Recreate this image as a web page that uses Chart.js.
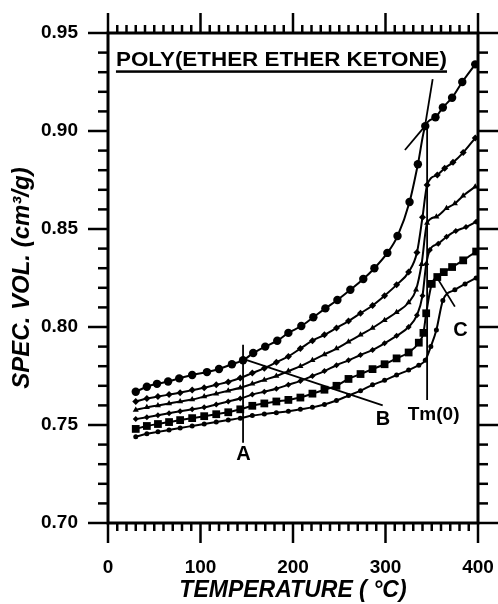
<!DOCTYPE html>
<html>
<head>
<meta charset="utf-8">
<script src="https://cdn.jsdelivr.net/npm/chart.js@4"></script>
<style>
  html, body { margin: 0; padding: 0; background: #fff; }
  canvas { display: block; }
</style>
</head>
<body>
<canvas id="c" width="498" height="604"></canvas>
<script>
/* PEEK specific volume vs temperature: six runs, with construction lines A, B, C and Tm(0). */
const FONT = '"Liberation Sans", Arial, Helvetica, sans-serif';

// run 1 - filled circles (top curve)
const t1 = [30, 42, 53, 65, 77, 91, 107, 120, 134, 146, 157, 170, 183, 195, 209, 222, 235, 248, 262, 276, 288, 302, 313, 326, 335, 343, 354, 362, 372, 383, 397];
const v1 = [0.767, 0.7695, 0.771, 0.7722, 0.7738, 0.7755, 0.777, 0.7786, 0.781, 0.783, 0.7867, 0.790, 0.793, 0.797, 0.8005, 0.805, 0.8095, 0.8138, 0.819, 0.8245, 0.830, 0.8378, 0.8464, 0.8638, 0.883, 0.9025, 0.907, 0.912, 0.917, 0.925, 0.934];
// run 2 - small diamonds
const t2 = [30, 42, 54, 66, 78, 91, 104, 117, 130, 143, 156, 169, 182, 195, 208, 221, 234, 247, 260, 273, 286, 299, 312, 325, 334, 340, 345, 356, 364, 373, 384, 397];
const v2 = [0.762, 0.7635, 0.7645, 0.7655, 0.7665, 0.7678, 0.769, 0.7705, 0.772, 0.774, 0.7765, 0.779, 0.782, 0.785, 0.789, 0.793, 0.796, 0.7995, 0.803, 0.807, 0.811, 0.816, 0.8215, 0.828, 0.838, 0.856, 0.8724, 0.8776, 0.881, 0.884, 0.889, 0.8964];
// run 3 - triangles
const t3 = [30, 42, 54, 66, 78, 91, 104, 117, 130, 143, 156, 169, 182, 195, 208, 221, 234, 247, 260, 273, 286, 299, 312, 325, 333, 339, 345, 355, 366, 375, 384, 397];
const v3 = [0.7577, 0.759, 0.760, 0.761, 0.762, 0.763, 0.7645, 0.766, 0.7675, 0.769, 0.771, 0.773, 0.775, 0.7775, 0.780, 0.783, 0.786, 0.789, 0.7925, 0.796, 0.7995, 0.8035, 0.8075, 0.8125, 0.819, 0.832, 0.853, 0.8563, 0.8606, 0.863, 0.867, 0.8716];
// run 4 - small diamonds
const t4 = [30, 42, 54, 66, 78, 91, 104, 117, 130, 143, 156, 169, 182, 195, 208, 221, 234, 247, 260, 273, 286, 299, 312, 325, 334, 340, 344, 348, 357, 366, 376, 387, 398];
const v4 = [0.753, 0.754, 0.755, 0.756, 0.757, 0.758, 0.759, 0.7605, 0.762, 0.7635, 0.7655, 0.767, 0.7685, 0.7705, 0.7725, 0.775, 0.7775, 0.7805, 0.783, 0.7857, 0.7883, 0.7917, 0.7955, 0.800, 0.806, 0.816, 0.832, 0.8393, 0.8425, 0.846, 0.849, 0.851, 0.8537];
// run 5 - squares
const t5 = [30, 42, 54, 66, 78, 91, 104, 117, 130, 143, 156, 169, 182, 195, 208, 221, 234, 247, 260, 273, 286, 299, 312, 325, 336, 341, 344, 350, 356, 363, 372, 384, 398];
const v5 = [0.748, 0.7495, 0.7505, 0.7515, 0.7525, 0.7535, 0.7545, 0.7555, 0.7565, 0.758, 0.7598, 0.761, 0.762, 0.7628, 0.764, 0.766, 0.768, 0.770, 0.7735, 0.776, 0.7785, 0.781, 0.784, 0.787, 0.792, 0.797, 0.807, 0.822, 0.8255, 0.828, 0.8306, 0.834, 0.8385];
// run 6 - small dots (bottom curve)
const t6 = [30, 42, 54, 66, 78, 91, 104, 117, 130, 143, 156, 169, 182, 195, 208, 221, 234, 247, 260, 273, 286, 299, 312, 325, 336, 343, 349, 355, 362, 375, 386, 398];
const v6 = [0.744, 0.7455, 0.7465, 0.7475, 0.7485, 0.7495, 0.7505, 0.7515, 0.7525, 0.7535, 0.7548, 0.7556, 0.7563, 0.757, 0.758, 0.759, 0.7605, 0.7625, 0.765, 0.7675, 0.7705, 0.7728, 0.7755, 0.778, 0.7805, 0.783, 0.790, 0.7985, 0.8135, 0.819, 0.822, 0.825];

// construction lines (temperature pairs / volume pairs)
const lineA = { t: [146, 146], v: [0.741, 0.791] };
const lineB = { t: [146, 297], v: [0.7837, 0.760] };
const lineC = { t: [355, 375], v: [0.8257, 0.8104] };
const lineTm = { t: [345, 345], v: [0.902, 0.7628] };
const tangentLiquid = { t: [321, 342.7], v: [0.8903, 0.9025] };
const tangentMelt = { t: [342.7, 351], v: [0.9025, 0.9265] };

// annotation labels
const labelText = ["A", "B", "C", "Tm(0)"];
const labelT = [146.5, 297.3, 381, 352];
const labelV = [0.7349, 0.7526, 0.7982, 0.7551];

// boxed-in title: starts at titleT, ends at titleEndT, baseline at titleV
const title = "POLY(ETHER ETHER KETONE)";
const titleT = 8.6, titleEndT = 366.5, titleV = 0.933;

const xTicks = [0, 100, 200, 300, 400];
const yTicks = ["0.70", "0.75", "0.80", "0.85", "0.90", "0.95"];

const pts = (ts, vs) => ts.map((t, i) => ({ x: t, y: vs[i] }));

const runs = [
  [t1, v1, "circle", 4.2],
  [t2, v2, "rectRot", 3.5],
  [t3, v3, "triangle", 3.5],
  [t4, v4, "rectRot", 3],
  [t5, v5, "rect", 5.5],
  [t6, v6, "circle", 2.5],
];

const datasets = runs.map(([t, v, shape, r]) => ({
  data: pts(t, v), showLine: true, borderColor: "#000", backgroundColor: "#000", borderWidth: 2,
  pointStyle: shape, pointRadius: r, pointBorderWidth: 0, cubicInterpolationMode: "monotone",
}));
[lineA, lineB, lineC, lineTm, tangentLiquid, tangentMelt].forEach((l) => datasets.push({
  data: pts(l.t, l.v), showLine: true, borderColor: "#000", borderWidth: 1.8, pointRadius: 0,
}));

// frame with outward ticks on all four sides, long at labelled values
const frame = {
  id: "frame",
  afterDatasetsDraw(chart) {
    const { ctx, chartArea: a, scales: { x, y } } = chart;
    const seg = (x0, y0, x1, y1) => { ctx.beginPath(); ctx.moveTo(x0, y0); ctx.lineTo(x1, y1); ctx.stroke(); };
    ctx.save();
    ctx.strokeStyle = "#000";
    ctx.lineWidth = 2.5;
    for (let t = 0; t <= 400; t += 10) {
      const px = x.getPixelForValue(t), L = t % 100 === 0 ? 20 : 8;
      seg(px, a.bottom, px, a.bottom + L);
      seg(px, a.top, px, a.top - L);
    }
    for (let k = 0; k <= 25; k++) {
      const py = y.getPixelForValue(0.70 + k * 0.01), L = k % 5 === 0 ? 20 : 10;
      seg(a.left, py, a.left - L, py);
      seg(a.right, py, a.right + L, py);
    }
    ctx.lineWidth = 3;
    ctx.strokeRect(a.left, a.top, a.right - a.left, a.bottom - a.top);
    ctx.restore();
  },
  afterDraw(chart) {
    const { ctx, scales: { x, y } } = chart;
    ctx.save();
    ctx.fillStyle = "#000";
    ctx.textAlign = "center";
    ctx.textBaseline = "middle";
    labelText.forEach((s, i) => {
      ctx.font = `bold ${s.length > 1 ? 19 : 20}px ${FONT}`;
      ctx.fillText(s, x.getPixelForValue(labelT[i]), y.getPixelForValue(labelV[i]));
    });
    // the source lettering is a wide face, so stretch the title to its span
    ctx.font = `bold 20px ${FONT}`;
    ctx.textAlign = "left";
    ctx.textBaseline = "alphabetic";
    const tx = x.getPixelForValue(titleT), ty = y.getPixelForValue(titleV);
    const w = ctx.measureText(title).width;
    const sx = (x.getPixelForValue(titleEndT) - tx) / w;
    ctx.translate(tx, ty);
    ctx.scale(sx, 1);
    ctx.fillText(title, 0, 0);
    ctx.fillRect(0, 4, w, 2.5);
    ctx.restore();
  },
};

new Chart(document.getElementById("c"), {
  type: "scatter",
  data: { datasets },
  plugins: [frame],
  options: {
    responsive: false, animation: false, events: [], devicePixelRatio: 1,
    layout: { padding: { top: 33, right: 20, left: 0, bottom: 0 } },
    plugins: { legend: { display: false }, tooltip: { enabled: false } },
    scales: {
      x: {
        type: "linear", min: 0, max: 400,
        afterFit: (s) => { s.height = 81; s.paddingLeft = 0; s.paddingRight = 0; },
        afterBuildTicks: (s) => { s.ticks = xTicks.map((v) => ({ value: v })); },
        grid: { display: false, drawTicks: false }, border: { display: false },
        ticks: { padding: 33, color: "#000", font: { family: FONT, size: 19, weight: "bold" }, maxRotation: 0 },
        title: { display: true, text: "TEMPERATURE ( °C)", color: "#000", padding: { bottom: 0 }, font: { family: FONT, size: 23, weight: "bold", style: "italic" } },
      },
      y: {
        type: "linear", min: 0.70, max: 0.95,
        afterFit: (s) => { s.width = 108; s.paddingTop = 0; s.paddingBottom = 0; },
        afterBuildTicks: (s) => { s.ticks = yTicks.map((v) => ({ value: +v })); },
        grid: { display: false, drawTicks: false }, border: { display: false },
        ticks: { padding: 30, color: "#000", font: { family: FONT, size: 19, weight: "bold" }, callback: (v) => Number(v).toFixed(2) },
        title: { display: true, text: "SPEC. VOL. (cm³/g)", color: "#000", padding: { top: 8 }, font: { family: FONT, size: 24, weight: "bold", style: "italic" } },
      },
    },
  },
});
</script>
</body>
</html>
